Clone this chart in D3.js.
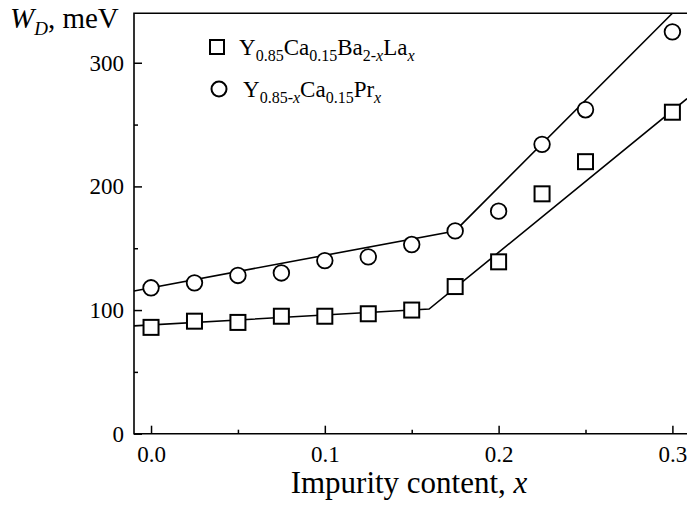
<!DOCTYPE html>
<html>
<head>
<meta charset="utf-8">
<script src="https://cdn.jsdelivr.net/npm/d3@7"></script>
<style>
  body { margin: 0; background: #fff; }
  svg { display: block; }
  svg text { font-family: "Liberation Serif", "DejaVu Serif", serif; }
</style>
</head>
<body>
<svg id="chart" width="687" height="507"></svg>
<script>
// data
const xs = [0.0, 0.025, 0.05, 0.075, 0.1, 0.125, 0.15, 0.175, 0.2, 0.225, 0.25, 0.3];
const laValues = [86, 91, 90, 95, 95, 97, 100, 119, 139, 194, 220, 260];
const prValues = [118, 122, 128, 130, 140, 143, 153, 164, 180, 234, 262, 325];
// fitted straight-line segments (x, y)
const laFitX = [-0.0098, 0.16, 0.3084];
const laFitY = [87.2, 100.8, 271];
const prFitX = [-0.0098, 0.175, 0.300];
const prFitY = [115.4, 164, 340];
const xMajor = [0.0, 0.1, 0.2, 0.3];
const xMinor = [0.05, 0.15, 0.25];
const yMajor = [0, 100, 200, 300];
const yMinor = [50, 150, 250];

const svg = d3.select("#chart");
const mLeft = 134, mRight = 687, mTop = 13.3, mBottom = 433.7;

const x = d3.scaleLinear().domain([-0.0098, 0.3084]).range([mLeft, mRight]);
const y = d3.scaleLinear().domain([0, 340]).range([mBottom, mTop]);

// axes, ticks pointing inward
svg.append("g")
  .attr("transform", `translate(0,${mBottom})`)
  .call(d3.axisBottom(x).tickValues(xMajor).tickSize(-8).tickPadding(12).tickFormat(d3.format(".1f")))
  .call(g => g.select(".domain").remove());
svg.append("g")
  .attr("transform", `translate(0,${mBottom})`)
  .call(d3.axisBottom(x).tickValues(xMinor).tickSize(-4).tickFormat(""))
  .call(g => g.select(".domain").remove());
svg.append("g")
  .attr("transform", `translate(${mLeft},0)`)
  .call(d3.axisLeft(y).tickValues(yMajor).tickSize(-8).tickPadding(10).tickFormat(d3.format("d")))
  .call(g => g.select(".domain").remove());
svg.append("g")
  .attr("transform", `translate(${mLeft},0)`)
  .call(d3.axisLeft(y).tickValues(yMinor).tickSize(-4).tickFormat(""))
  .call(g => g.select(".domain").remove());

svg.selectAll("g").attr("font-family", null);
svg.selectAll(".tick line").attr("stroke", "#000").attr("stroke-width", 1.5);
svg.selectAll(".tick text").attr("fill", "#000").attr("font-size", 23)
  .style("font-family", "'Liberation Serif', serif");

// frame (left, bottom, top)
svg.append("path")
  .attr("d", `M${mRight},${mTop}H${mLeft}V${mBottom}H${mRight}`)
  .attr("fill", "none").attr("stroke", "#000").attr("stroke-width", 1.6);

// fit lines
const line = d3.line().x(d => x(d[0])).y(d => y(d[1]));
const plot = svg.append("g");
plot.append("path").datum(d3.zip(laFitX, laFitY)).attr("d", line)
  .attr("fill", "none").attr("stroke", "#000").attr("stroke-width", 1.6);
plot.append("path").datum(d3.zip(prFitX, prFitY)).attr("d", line)
  .attr("fill", "none").attr("stroke", "#000").attr("stroke-width", 1.6);

// markers
const sq = 15;
plot.selectAll(".sq").data(d3.zip(xs, laValues)).join("rect")
  .attr("x", d => x(d[0]) - sq / 2).attr("y", d => y(d[1]) - sq / 2)
  .attr("width", sq).attr("height", sq)
  .attr("fill", "#fff").attr("stroke", "#000").attr("stroke-width", 2);
plot.selectAll(".ci").data(d3.zip(xs, prValues)).join("circle")
  .attr("cx", d => x(d[0])).attr("cy", d => y(d[1])).attr("r", 7.8)
  .attr("fill", "#fff").attr("stroke", "#000").attr("stroke-width", 1.8);

// legend
const leg = svg.append("g");
leg.append("rect").attr("x", 210).attr("y", 40).attr("width", 14).attr("height", 14)
  .attr("fill", "#fff").attr("stroke", "#000").attr("stroke-width", 2);
leg.append("circle").attr("cx", 219).attr("cy", 89).attr("r", 7.5)
  .attr("fill", "#fff").attr("stroke", "#000").attr("stroke-width", 2);

// parts: [text, isSub, isItalic]
function formula(xp, yp, parts) {
  const t = leg.append("text").attr("x", xp).attr("y", yp).attr("font-size", 23).attr("fill", "#000");
  let low = false;
  parts.forEach(([txt, sub, it]) => {
    const s = t.append("tspan").text(txt);
    if (sub) s.attr("font-size", 16);
    if (sub && !low) s.attr("dy", 6);
    if (!sub && low) s.attr("dy", -6);
    if (it) s.attr("font-style", "italic");
    low = sub;
  });
}
formula(239, 55, [
  ["Y"], ["0.85", 1], ["Ca"], ["0.15", 1], ["Ba"], ["2-", 1], ["x", 1, 1], ["La"], ["x", 1, 1]
]);
formula(243, 97, [
  ["Y"], ["0.85-", 1], ["x", 1, 1], ["Ca"], ["0.15", 1], ["Pr"], ["x", 1, 1]
]);

// axis titles
const yt = svg.append("text").attr("x", 10).attr("y", 28).attr("font-size", 29).attr("fill", "#000");
yt.append("tspan").text("W").attr("font-style", "italic");
yt.append("tspan").text("D").attr("font-style", "italic").attr("font-size", 19).attr("dy", 7);
yt.append("tspan").text(", meV").attr("dy", -7);

const xt = svg.append("text").attr("x", 409).attr("y", 493).attr("text-anchor", "middle")
  .attr("font-size", 31).attr("fill", "#000");
xt.append("tspan").text("Impurity content, ");
xt.append("tspan").text("x").attr("font-style", "italic");
</script>
</body>
</html>
